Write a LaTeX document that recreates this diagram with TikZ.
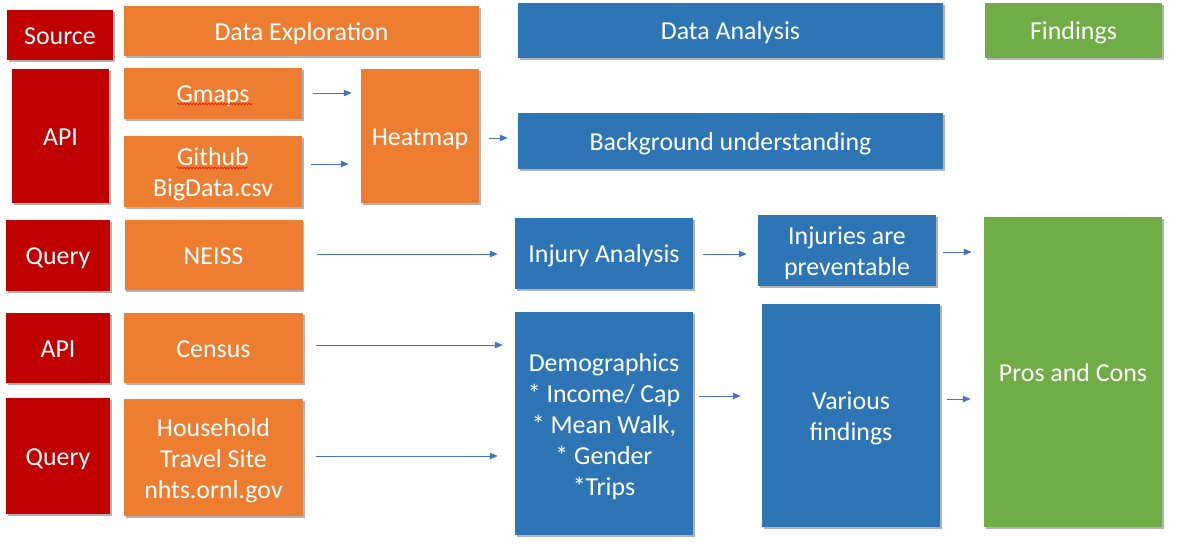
\documentclass[tikz,border=0pt]{standalone}
\usepackage{fontspec}
\setmainfont{Carlito}
\usetikzlibrary{arrows.meta,shadows,decorations.pathmorphing}
\definecolor{srcred}{HTML}{C00000}
\definecolor{explor}{HTML}{ED7D31}
\definecolor{analys}{HTML}{2E75B6}
\definecolor{findng}{HTML}{70AD47}
\definecolor{arrowblue}{HTML}{4472C4}
\newcommand\lnstrut{\rule{0pt}{1em}}
\tikzset{
  box/.style={text=white,align=center,inner sep=0pt,
    font=\fontsize{18.4}{22}\selectfont,
    execute at begin node={\rule[-.25em]{0pt}{1.2em}},
    drop shadow={shadow xshift=1.4pt,shadow yshift=-1.4pt,opacity=.3,fill=black}},
  sz/.style n args={2}{minimum width=#1*\px,minimum height=#2*\px},
  src/.style={box,fill=srcred},
  expl/.style={box,fill=explor},
  ana/.style={box,fill=analys},
  fnd/.style={box,fill=findng},
  flow/.style={draw=arrowblue,line width=.6pt,-{Triangle[length=5.5pt,width=4.5pt]},
    shorten <=10*\px,shorten >=12*\px},
  squiggle/.style={draw=red,line width=.4pt,decorate,
    decoration={snake,amplitude=.5pt,segment length=2.2pt}}
}
\begin{document}
\begin{tikzpicture}[x=0.025cm,y=-0.025cm]
\def\px{0.025cm}
\useasboundingbox (0,0) rectangle (1193,557);
% header row
\node[src,sz={106}{50}] (source) at (60,35) {Source};
\node[expl,sz={355}{50}] (explhead) at (301.5,31) {Data Exploration};
\node[ana,sz={425}{55}] (anahead) at (730.5,30.5) {Data Analysis};
\node[fnd,sz={177}{55}] (fndhead) at (1073.5,30.5) {Findings};
% sources
\node[src,sz={97}{134}] (api) at (60.5,136) {API};
\node[src,sz={104}{71}] (query) at (58,255.5) {Query};
\node[src,sz={104}{70}] (apib) at (58,348) {API};
\node[src,sz={104}{116}] (queryb) at (58,456) {Query};
% exploration
\node[expl,sz={178}{51}] (gmaps) at (213,93.5) {Gmaps};
\node[expl,sz={178}{71}] (github) at (213,171.5) {\lnstrut Github\\BigData.csv};
\node[expl,sz={118}{134}] (heatmap) at (420,136) {Heatmap};
\node[expl,sz={178}{70}] (neiss) at (213.5,255) {NEISS};
\node[expl,sz={179}{70}] (census) at (213.5,348) {Census};
\node[expl,sz={179}{117}] (household) at (213.5,457.5) {\lnstrut Household\\Travel Site\\nhts.ornl.gov};
% analysis
\node[ana,sz={425}{56}] (backgr) at (730.5,141) {Background understanding};
\node[ana,sz={178}{71}] (injury) at (604,253.5) {Injury Analysis};
\node[ana,sz={178}{71}] (prevent) at (847,250.5) {\lnstrut Injuries are\\preventable};
\node[ana,sz={178}{223}] (demo) at (604,423.5)
  {\lnstrut Demographics\\* Income/ Cap\\* Mean Walk,\\* Gender\\*Trips};
\node[ana,sz={178}{223}] (various) at (851,415.5) {\lnstrut Various\\findings};
% findings
\node[fnd,sz={178}{310}] (pros) at (1073,372) {Pros and Cons};
% spell check marks
\draw[squiggle] (177,104) -- (252,104);
\draw[squiggle] (177,168) -- (248,168);
% arrows
\draw[flow,shorten <=11*\px,shorten >=9*\px] (gmaps.east |- 0,93) -- (heatmap.west |- 0,93);
\draw[flow,shorten <=9*\px] (github.east |- 0,164) -- (heatmap.west |- 0,164);
\draw[flow,shorten >=10*\px] (heatmap.east |- 0,138) -- (backgr.west |- 0,138);
\draw[flow,shorten <=14*\px,shorten >=17*\px] (neiss.east |- 0,254) -- (injury.west |- 0,254);
\draw[flow,shorten >=11*\px] (injury.east |- 0,254) -- (prevent.west |- 0,254);
\draw[flow,shorten <=7*\px] (prevent.east |- 0,252) -- (pros.west |- 0,252);
\draw[flow,shorten <=13*\px] (census.east |- 0,345) -- (demo.west |- 0,345);
\draw[flow,shorten <=13*\px,shorten >=17*\px] (household.east |- 0,456) -- (demo.west |- 0,456);
\draw[flow,shorten <=6*\px,shorten >=21*\px] (demo.east |- 0,396) -- (various.west |- 0,396);
\draw[flow,shorten <=7*\px,shorten >=13*\px] (various.east |- 0,399) -- (pros.west |- 0,399);
\end{tikzpicture}
\end{document}
